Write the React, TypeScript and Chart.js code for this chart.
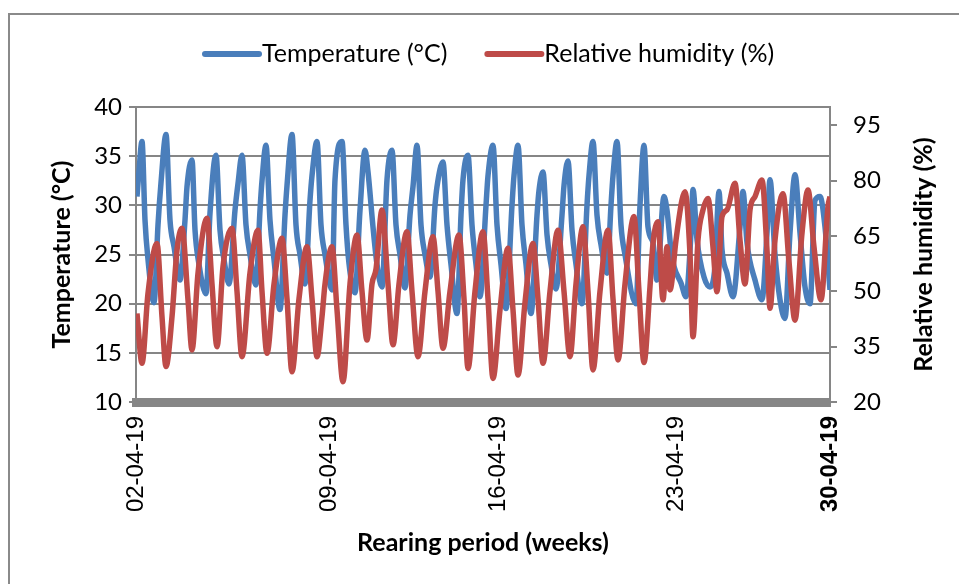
import React, { useEffect, useRef } from 'react';
import { Chart, registerables } from 'chart.js';

Chart.register(...registerables);

// Reading index (logger readings from the start of 02-04-19)
const tempReading = [
  1, 3, 6, 9, 12, 18, 22, 25, 30, 34, 38, 44, 49, 51, 56, 59, 63, 70, 74, 80, 84, 88, 93, 99, 102, 106, 110, 114, 120,
  124, 126, 130, 134, 138, 144, 149, 151, 156, 160, 164, 169, 174, 176, 181, 185, 189, 196, 199, 206, 210, 213, 219,
  224, 229, 232, 237, 241, 246, 251, 256, 260, 264, 269, 274, 277, 281, 285, 289, 294, 299, 301, 307, 311, 315, 321,
  325, 327, 332, 336, 340, 344, 350, 352, 357, 361, 365, 370, 376, 378, 382, 386, 390, 395, 401, 403, 407, 411, 415,
  420, 426, 428, 432, 436, 440, 446, 451, 453, 457, 461, 465, 471, 475, 477, 481, 485, 489, 500, 504, 508, 512, 517,
  521, 528, 531, 535, 538, 545, 550, 555, 557, 561, 568, 574, 579, 583, 586, 591, 597, 604, 607, 611, 619, 626, 631,
  634, 639, 644, 649, 654, 659, 664, 669, 674, 679, 684, 689, 694,
];
const tempValues = [
  30.9, 33.5, 36.5, 28.5, 24.5, 20.1, 28.0, 32.3, 37.2, 28.5, 25.8, 22.4, 28.5, 31.9, 34.6, 27.5, 24.0, 21.0, 29.2,
  35.1, 27.5, 24.5, 22.0, 29.5, 32.2, 35.1, 28.0, 25.0, 21.9, 29.5, 32.5, 36.1, 28.5, 24.5, 19.4, 29.0, 32.0, 37.2,
  28.0, 25.0, 22.0, 30.5, 33.0, 36.5, 28.0, 25.0, 21.4, 32.6, 36.5, 28.0, 24.1, 21.1, 29.5, 35.6, 33.4, 27.8, 24.0,
  21.7, 32.6, 35.6, 28.0, 25.0, 21.6, 29.0, 31.9, 36.1, 28.0, 25.0, 22.7, 30.0, 31.9, 34.4, 28.0, 24.0, 19.0, 29.0,
  32.6, 35.1, 28.0, 24.0, 20.7, 30.0, 33.0, 36.1, 28.0, 24.0, 19.5, 30.0, 33.0, 36.1, 28.0, 24.0, 19.0, 29.0, 31.5,
  33.4, 27.0, 24.0, 21.5, 29.0, 32.0, 34.5, 27.5, 24.0, 20.0, 30.0, 33.0, 36.5, 29.0, 26.0, 23.1, 30.0, 33.0, 36.5,
  28.0, 25.0, 20.0, 30.0, 36.1, 27.8, 26.2, 22.4, 30.9, 29.5, 25.5, 23.8, 22.1, 20.7, 27.2, 31.6, 26.5, 22.7, 21.7,
  23.8, 31.4, 25.5, 23.1, 20.7, 27.8, 31.4, 26.2, 22.4, 20.4, 27.2, 32.6, 25.0, 20.4, 18.5, 27.2, 33.1, 27.2, 21.7,
  20.0, 30.5, 30.9, 27.8, 21.4,
];

const rhReading = [
  1, 6, 12, 21, 26, 30, 36, 41, 46, 52, 56, 62, 71, 76, 81, 87, 96, 101, 106, 114, 122, 126, 131, 138, 146, 151, 156,
  163, 171, 176, 181, 186, 189, 196, 201, 207, 214, 221, 226, 231, 236, 240, 246, 252, 257, 263, 271, 276, 282, 289,
  297, 302, 307, 314, 323, 328, 332, 339, 347, 352, 357, 364, 372, 377, 382, 389, 397, 402, 407, 414, 422, 428, 434,
  440, 447, 452, 457, 464, 472, 477, 482, 489, 498, 503, 508, 514, 517, 522, 527, 531, 534, 540, 546, 549, 554, 557,
  562, 567, 572, 577, 581, 586, 591, 599, 604, 609, 614, 619, 626, 631, 634, 639, 647, 653, 659, 666, 672, 678, 685,
  692, 694,
];
const rhValues = [
  44.0, 30.5, 49.5, 63.0, 43.1, 29.6, 43.1, 61.2, 67.1, 47.7, 34.1, 54.9, 69.8, 52.0, 35.0, 56.7, 67.1, 50.0, 32.3,
  55.0, 66.6, 50.0, 33.2, 52.0, 64.4, 48.0, 28.2, 48.0, 62.1, 48.0, 32.3, 43.1, 52.0, 62.1, 45.0, 25.5, 52.0, 65.3,
  50.0, 36.8, 52.0, 56.0, 72.1, 52.0, 35.5, 52.0, 66.2, 50.0, 32.3, 50.0, 64.8, 50.0, 34.6, 50.0, 65.3, 48.0, 29.1,
  50.0, 66.2, 48.0, 26.4, 45.0, 61.7, 45.0, 27.3, 47.0, 63.0, 48.0, 30.5, 50.0, 66.6, 50.0, 32.3, 52.0, 67.5, 50.0,
  28.7, 50.0, 66.6, 48.0, 31.4, 52.0, 70.3, 50.0, 30.7, 51.3, 63.0, 68.9, 47.7, 62.1, 50.4, 63.9, 74.8, 77.0, 60.0,
  37.7, 63.9, 72.1, 75.2, 62.0, 49.9, 70.3, 72.1, 79.3, 63.9, 52.0, 72.1, 75.7, 80.2, 61.2, 45.4, 63.9, 76.5, 58.0,
  42.2, 65.8, 77.5, 62.0, 47.7, 73.0, 75.7,
];

const dateTickReadings = [0, 193, 362, 540, 694];
const dateTickLabels = ['02-04-19', '09-04-19', '16-04-19', '23-04-19', '30-04-19'];
const tempTicks = [10, 15, 20, 25, 30, 35, 40];
const rhTicks = [20, 35, 50, 65, 80, 95];

const seriesNames = ['Temperature (°C)', 'Relative humidity (%)'];
const xTitle = 'Rearing period (weeks)';
const yTitle = 'Temperature (°C)';
const y1Title = 'Relative humidity (%)';

const BLUE = '#4A7EBB';
const RED = '#BE4B48';
const GRID = '#868686';
const FONT = 'Lato, "Open Sans", sans-serif';
const DATE_FONT = '"Liberation Sans", Arial, sans-serif';

const framePlugin = {
  id: 'frame',
  beforeDraw(chart: any) {
    const ctx = chart.ctx;
    ctx.save();
    ctx.fillStyle = '#ffffff';
    ctx.fillRect(0, 0, chart.width, chart.height);
    ctx.strokeStyle = '#8a8a8a';
    ctx.lineWidth = 2;
    ctx.strokeRect(9, 14, chart.width + 20, chart.height + 20);
    ctx.restore();
  },
};

const customTextPlugin = {
  id: 'customText',
  afterDraw(chart: any) {
    const ctx = chart.ctx;
    ctx.save();
    // legend
    ctx.font = `25px ${FONT}`;
    ctx.textBaseline = 'middle';
    ctx.textAlign = 'left';
    let x = 205;
    const y = 54;
    [0, 1].forEach((i) => {
      const ds = chart.data.datasets[i];
      ctx.strokeStyle = ds.borderColor;
      ctx.lineWidth = 6;
      ctx.lineCap = 'round';
      ctx.beginPath();
      ctx.moveTo(x, y);
      ctx.lineTo(x + 54, y);
      ctx.stroke();
      ctx.fillStyle = '#000';
      ctx.fillText(ds.label, x + 57, y);
      x += 57 + ctx.measureText(ds.label).width + 40;
    });
    // right axis title
    const area = chart.chartArea;
    ctx.font = `bold 25px ${FONT}`;
    ctx.textAlign = 'center';
    ctx.translate(924, (area.top + area.bottom) / 2);
    ctx.rotate(-Math.PI / 2);
    ctx.fillText(y1Title, 0, 0);
    ctx.restore();
  },
};

export default function App() {
  const ref = useRef<HTMLCanvasElement | null>(null);

  useEffect(() => {
    if (!ref.current) return;
    const chart = new Chart(ref.current, {
      type: 'line',
      data: {
        datasets: [
          {
            label: seriesNames[0],
            data: tempReading.map((r, i) => ({ x: r, y: tempValues[i] })),
            borderColor: BLUE,
            backgroundColor: BLUE,
            borderWidth: 5.5,
            pointRadius: 0,
            cubicInterpolationMode: 'monotone',
            yAxisID: 'y',
            order: 2,
          },
          {
            label: seriesNames[1],
            data: rhReading.map((r, i) => ({ x: r, y: rhValues[i] })),
            borderColor: RED,
            backgroundColor: RED,
            borderWidth: 5.5,
            pointRadius: 0,
            cubicInterpolationMode: 'monotone',
            yAxisID: 'y1',
            order: 1,
          },
        ],
      },
      options: {
        responsive: false,
        animation: false,
        layout: { padding: { top: 107, left: 0, right: 0, bottom: 0 } },
        plugins: {
          legend: { display: false },
          tooltip: { enabled: false },
        },
        scales: {
          x: {
            type: 'linear',
            min: 0,
            max: 694,
            afterBuildTicks: (s: any) => {
              s.ticks = dateTickReadings.map((v) => ({ value: v }));
            },
            afterFit: (s: any) => {
              s.height = 182;
            },
            ticks: {
              autoSkip: false,
              maxRotation: 90,
              minRotation: 90,
              padding: 14,
              color: '#000',
              font: (c: any) => ({ family: DATE_FONT, size: 24, weight: c.index === 4 ? 'bold' : 'normal' }),
              callback: (_v: any, i: number) => dateTickLabels[i],
            },
            grid: { display: true, drawOnChartArea: false, drawTicks: false, color: 'rgba(0,0,0,0)' },
            border: { display: true, width: 9, color: GRID },
            title: {
              display: true,
              text: xTitle,
              color: '#000',
              font: { family: FONT, size: 25, weight: 'bold' },
              padding: { top: 0, bottom: 26 },
            },
          },
          y: {
            type: 'linear',
            position: 'left',
            min: 10,
            max: 40,
            afterBuildTicks: (s: any) => {
              s.ticks = tempTicks.map((v) => ({ value: v }));
            },
            afterFit: (s: any) => {
              s.width = 136;
            },
            ticks: { color: '#000', padding: 7, font: { family: FONT, size: 24 } },
            grid: { color: GRID, lineWidth: 2, tickLength: 7 },
            border: { color: GRID, width: 2 },
            title: {
              display: true,
              text: yTitle,
              color: '#000',
              font: { family: FONT, size: 25, weight: 'bold' },
              padding: { top: 47, bottom: 0 },
            },
          },
          y1: {
            type: 'linear',
            position: 'right',
            min: 20,
            max: 100,
            afterBuildTicks: (s: any) => {
              s.ticks = rhTicks.map((v) => ({ value: v }));
            },
            afterFit: (s: any) => {
              s.width = 129;
            },
            ticks: { color: '#000', padding: 16, font: { family: FONT, size: 24 } },
            grid: { drawOnChartArea: false, color: GRID, lineWidth: 2, tickLength: 7 },
            border: { color: GRID, width: 2 },
          },
        },
      },
      plugins: [framePlugin, customTextPlugin],
    } as any);
    return () => chart.destroy();
  }, []);

  return (
    <div style={{ position: 'fixed', left: 0, top: 0, width: 959, height: 584, background: '#fff' }}>
      <canvas ref={ref} width={959} height={584} style={{ width: 959, height: 584, display: 'block' }} />
    </div>
  );
}
